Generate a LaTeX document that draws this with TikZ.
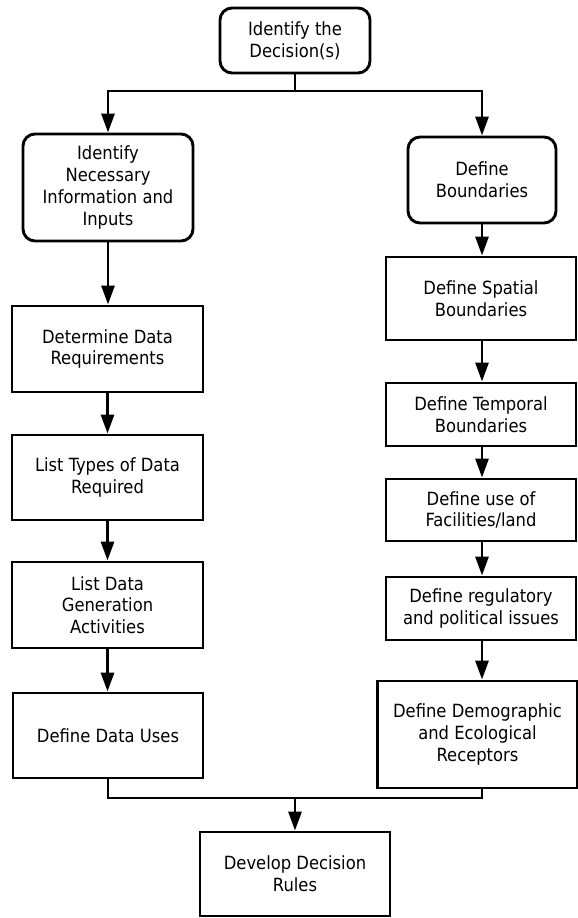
\documentclass[tikz,border=0pt]{standalone}
\usepackage{fontspec}
\setmainfont{DejaVu Sans Condensed}
\usetikzlibrary{arrows.meta}
\begin{document}
\begin{tikzpicture}[x=1pt,y=-1pt,line width=2.9pt,
		every node/.style={draw,align=center,inner sep=0pt,font=\fontsize{18.2}{21.7}\selectfont},
		roundbox/.style={rounded corners=12pt},
		flow/.style={-{Triangle[width=13pt,length=19pt]}}]
		\useasboundingbox (0,0) rectangle (578,918);

		\node[roundbox,minimum width=150,minimum height=65] (decide) at (295,40.5) {Identify the\\Decision(s)};

		% left column
		\node[roundbox,minimum width=170,minimum height=107] (info) at (108,187.5) {Identify\\Necessary\\Information and\\Inputs};
		\node[minimum width=191,minimum height=86] (datareq) at (107.5,349) {Determine Data\\Requirements};
		\node[minimum width=191,minimum height=85] (types) at (107.5,477.5) {List Types of Data\\Required};
		\node[minimum width=191,minimum height=86] (gen) at (107.5,605) {List Data\\Generation\\Activities};
		\node[minimum width=190,minimum height=85] (uses) at (108,735.5) {Define Data Uses};

		% right column
		\node[roundbox,minimum width=148,minimum height=86] (bounds) at (482,180) {Define\\Boundaries};
		\node[minimum width=190,minimum height=83] (spatial) at (481,298.5) {Define Spatial\\Boundaries};
		\node[minimum width=190,minimum height=63] (temporal) at (481,414.5) {Define Temporal\\Boundaries};
		\node[minimum width=190,minimum height=62] (facil) at (481,510) {Define use of\\Facilities/land};
		\node[minimum width=190,minimum height=63] (regul) at (481,608.5) {Define regulatory\\and political issues};
		\node[minimum width=200,minimum height=107] (demog) at (477.5,734.5) {Define Demographic\\and Ecological\\Receptors};

		\node[minimum width=190,minimum height=84] (develop) at (295,874) {Develop Decision\\Rules};

		\coordinate (split) at (295,91);
		\coordinate (merge) at (295,798);

		\draw (decide) -- (split);
		\draw[flow] (split) -| (info);
		\draw[flow] (split) -| (bounds);

		\foreach \a/\b in {info/datareq,datareq/types,types/gen,gen/uses} {
				\draw[flow] (\a) -- (\a |- \b.north);
			}
		\foreach \a/\b in {bounds/spatial,spatial/temporal,temporal/facil,facil/regul,regul/demog} {
				\draw[flow] (bounds |- \a.south) -- (bounds |- \b.north);
			}

		\draw (uses) |- (merge);
		\draw (bounds |- demog.south) |- (merge);
		\draw[flow] (merge) -- (develop);
	\end{tikzpicture}
\end{document}
